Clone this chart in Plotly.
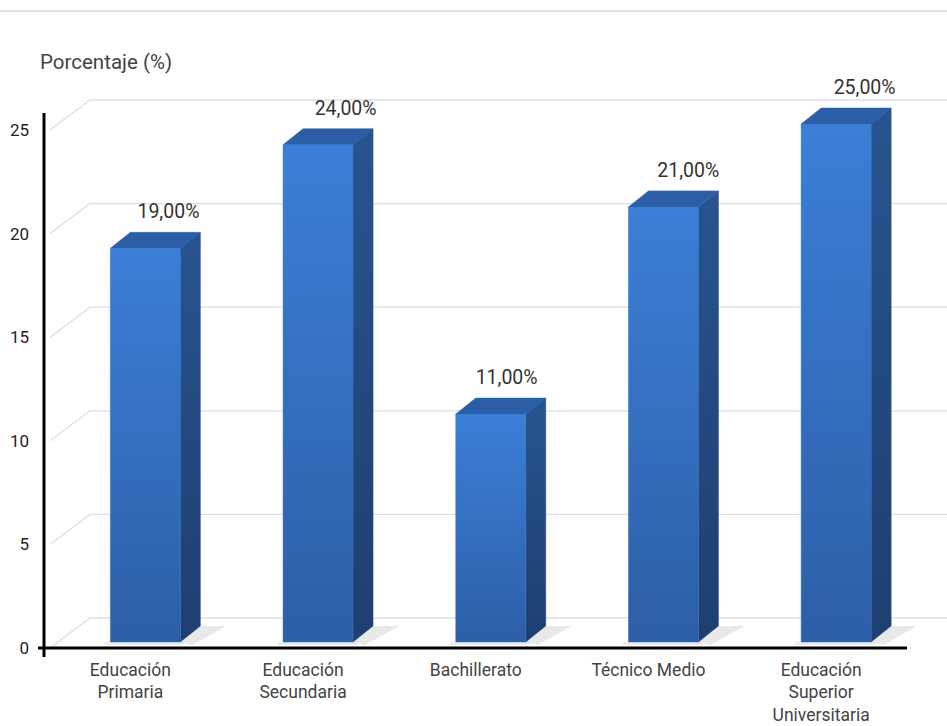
import plotly.graph_objects as go

# ---------------- data ----------------
categories = ["Educación<br>Primaria", "Educación<br>Secundaria", "Bachillerato",
              "Técnico Medio", "Educación<br>Superior<br>Universitaria"]
values = [19, 24, 11, 21, 25]
value_labels = ["19,00%", "24,00%", "11,00%", "21,00%", "25,00%"]
y_ticks = [0, 5, 10, 15, 20, 25]
y_tick_text = ["0", "5", "10", "15", "20", "25"]
y_title = "Porcentaje (%)"

# ---------------- geometry (pixel based helpers) ----------------
W, H = 947, 726
PX_PER_SLOT = 172.7
PX_PER_UNIT = 20.72
ZERO_PX = 648
AXIS_X_PX = 44          # where the vertical axis line sits
PLOT_LEFT = 30          # left edge of the plotting area
PLOT_TOP, PLOT_BOTTOM = 60, 657


def sx(px):
    return (px - AXIS_X_PX) / PX_PER_SLOT - 0.5


def dxs(px):
    return px / PX_PER_SLOT


def vy(px):
    return (ZERO_PX - px) / PX_PER_UNIT


def dvy(px):
    return px / PX_PER_UNIT


FONT = "Roboto, Arial, sans-serif"
TXT = "#444444"

fig = go.Figure()

# back grid (3-D walls)
gx, gy = [], []
for t in y_ticks:
    gx += [sx(50), sx(90), sx(947), None]
    gy += [t, t + dvy(30), t + dvy(30), None]
fig.add_trace(go.Scatter(x=gx, y=gy, mode="lines", line=dict(color="#dedede", width=1.3),
                         hoverinfo="skip", showlegend=False))

ddx, ddy = dxs(20), dvy(16)
base = dvy(6)

for i, v in enumerate(values):
    L = i + dxs(-20)
    R = i + dxs(50)
    b = base
    t = v + base
    # floor shadow
    fig.add_trace(go.Scatter(
        x=[R, R + ddx, R + ddx + dxs(26), R + dxs(12), R],
        y=[b, b + ddy, b + ddy, b - dvy(3), b],
        mode="lines", fill="toself", fillcolor="rgba(0,0,0,0.09)",
        line=dict(width=0), hoverinfo="skip", showlegend=False))
    fig.add_trace(go.Scatter(
        x=[L - dxs(6), R + dxs(4), R + dxs(4), L - dxs(6), L - dxs(6)],
        y=[b - dvy(3), b - dvy(3), b, b, b - dvy(3)],
        mode="lines", fill="toself", fillcolor="rgba(0,0,0,0.07)",
        line=dict(width=0), hoverinfo="skip", showlegend=False))
    # side face
    fig.add_trace(go.Scatter(
        x=[R, R + ddx, R + ddx, R, R],
        y=[b, b + ddy, t + ddy, t, b],
        mode="lines", fill="toself",
        fillgradient=dict(type="vertical", colorscale=[[0, "#1e3f70"], [1, "#27548f"]]),
        line=dict(width=0.5, color="#234a82"), hoverinfo="skip", showlegend=False))
    # top face
    fig.add_trace(go.Scatter(
        x=[L, L + ddx, R + ddx, R, L],
        y=[t, t + ddy, t + ddy, t, t],
        mode="lines", fill="toself", fillcolor="#2b5ea6",
        line=dict(width=0.5, color="#2b5ea6"), hoverinfo="skip", showlegend=False))
    # front face
    fig.add_trace(go.Scatter(
        x=[L, R, R, L, L],
        y=[b, b, t, t, b],
        mode="lines", fill="toself",
        fillgradient=dict(type="vertical", colorscale=[[0, "#2d5ea6"], [1, "#3b7fd8"]]),
        line=dict(width=0.5, color="#3470c0"), hoverinfo="skip", showlegend=False))

# axis lines
fig.add_trace(go.Scatter(x=[sx(44), sx(44)], y=[vy(658), vy(113)], mode="lines",
                         line=dict(color="#000000", width=3),
                         hoverinfo="skip", showlegend=False))
fig.add_trace(go.Scatter(x=[sx(38), sx(907)], y=[0, 0], mode="lines",
                         line=dict(color="#000000", width=3),
                         hoverinfo="skip", showlegend=False))

# value labels
lx = [i + dxs(15 + 0.9 * v + 6) for i, v in enumerate(values)]
ly = [v + base + dvy(35) for v in values]
fig.add_trace(go.Scatter(x=lx, y=ly, mode="text", text=value_labels,
                         textposition="middle center",
                         textfont=dict(family=FONT, size=19.5, color="#333333"),
                         cliponaxis=False, hoverinfo="skip", showlegend=False))

plot_h = PLOT_BOTTOM - PLOT_TOP
plot_w = W - PLOT_LEFT

fig.update_layout(
    width=W, height=H,
    margin=dict(l=PLOT_LEFT, r=0, t=PLOT_TOP, b=H - PLOT_BOTTOM),
    paper_bgcolor="#ffffff", plot_bgcolor="rgba(0,0,0,0)",
    font=dict(family=FONT, color=TXT, size=17),
    xaxis=dict(range=[sx(PLOT_LEFT), sx(W)], tickvals=list(range(len(categories))),
               ticktext=categories, showgrid=False, zeroline=False, showline=False,
               ticks="", automargin=False, ticklabelstandoff=0,
               tickfont=dict(size=17.5, color=TXT), fixedrange=True),
    yaxis=dict(range=[vy(PLOT_BOTTOM), vy(PLOT_TOP)], tickvals=y_ticks, ticktext=y_tick_text,
               showgrid=False, zeroline=False, showline=False, ticks="", automargin=False,
               ticklabelstandoff=0, tickfont=dict(size=17, color="#222222"), fixedrange=True),
    annotations=[dict(text=y_title, xref="paper", yref="paper",
                      x=(38 - PLOT_LEFT) / plot_w, y=(PLOT_BOTTOM - 62) / plot_h,
                      xanchor="left", yanchor="middle", showarrow=False,
                      font=dict(family=FONT, size=20.5, color=TXT))],
    shapes=[dict(type="line", xref="paper", yref="paper",
                 x0=-PLOT_LEFT / plot_w, x1=1, y0=(PLOT_BOTTOM - 11) / plot_h,
                 y1=(PLOT_BOTTOM - 11) / plot_h, line=dict(color="#e2e2e2", width=2))],
)

fig.write_html("out.html")
